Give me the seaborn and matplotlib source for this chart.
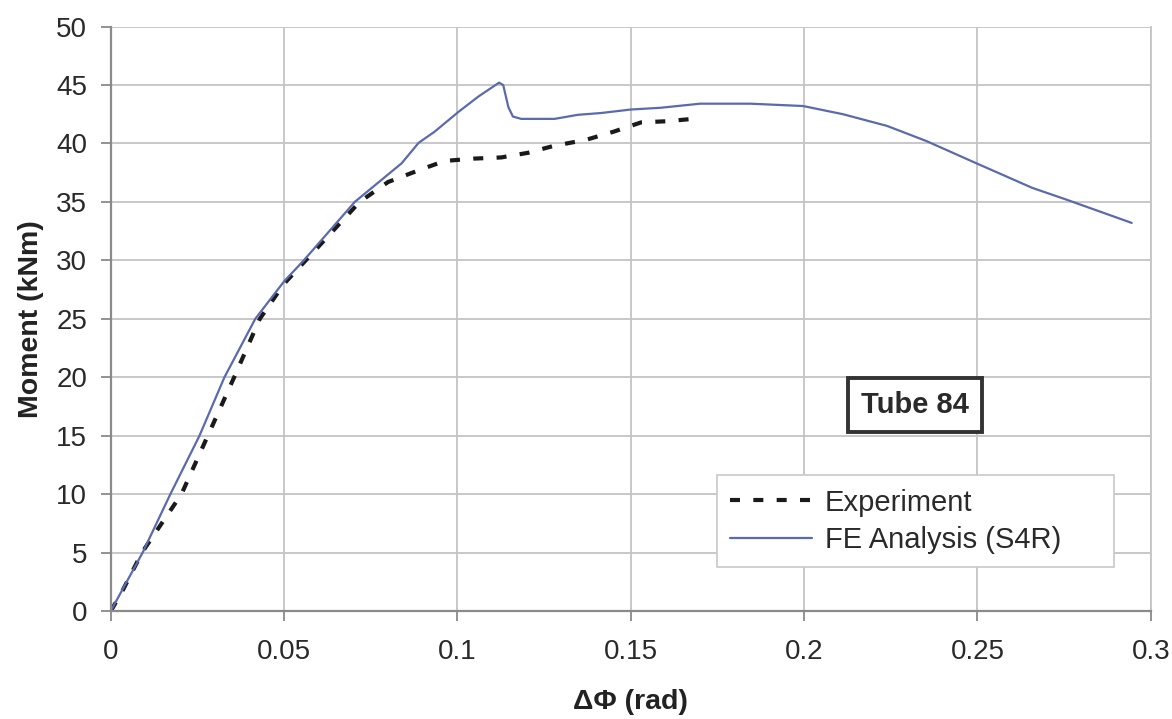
import matplotlib
matplotlib.use("Agg")
import matplotlib.pyplot as plt
import seaborn as sns
import pandas as pd

# Experiment data
exp_x = [0.0, 0.003, 0.009, 0.0204, 0.028, 0.0356, 0.043, 0.05, 0.06, 0.0718, 0.08, 0.0888,
         0.0963, 0.1046, 0.1126, 0.1204, 0.1279, 0.137, 0.145, 0.153, 0.1606, 0.1678]
exp_y = [0.0, 1.5, 5.0, 10.0, 15.0, 20.0, 25.0, 28.0, 31.2, 35.0, 36.7, 37.7,
         38.5, 38.7, 38.8, 39.2, 39.8, 40.3, 41.0, 41.8, 41.9, 42.1]

# FE Analysis (S4R) data
fe_x = [0.0, 0.0092, 0.0172, 0.0256, 0.0328, 0.0417, 0.05, 0.0557, 0.0704, 0.0839, 0.0888,
        0.0934, 0.1003, 0.106, 0.112, 0.1132, 0.1147, 0.116, 0.1184, 0.128, 0.1348, 0.1414,
        0.15, 0.1586, 0.170, 0.1845, 0.1997, 0.2112, 0.2239, 0.2353, 0.2497, 0.2658, 0.2756, 0.2945]
fe_y = [0.0, 5.0, 10.0, 15.0, 20.0, 25.0, 28.2, 30.0, 35.0, 38.3, 40.05,
        41.0, 42.7, 44.0, 45.2, 45.0, 43.1, 42.3, 42.1, 42.1, 42.45, 42.6,
        42.9, 43.05, 43.4, 43.4, 43.2, 42.5, 41.5, 40.2, 38.3, 36.2, 35.2, 33.2]

x_ticks = [0, 0.05, 0.1, 0.15, 0.2, 0.25, 0.3]
x_tick_labels = ["0", "0.05", "0.1", "0.15", "0.2", "0.25", "0.3"]
y_ticks = [0, 5, 10, 15, 20, 25, 30, 35, 40, 45, 50]

sns.set_style("whitegrid")
plt.rcParams['font.family'] = ['Liberation Sans', 'DejaVu Sans']

fig = plt.figure(figsize=(11.72, 7.19), dpi=100)
ax = fig.add_axes([0.0945, 0.1502, 0.8874, 0.8129])

df_exp = pd.DataFrame({"x": exp_x, "y": exp_y})
df_fe = pd.DataFrame({"x": fe_x, "y": fe_y})

sns.lineplot(data=df_exp, x="x", y="y", ax=ax, color="#1a1a1a", linewidth=3.0,
             linestyle=(0, (2.4, 3.2)), label="Experiment", sort=False, estimator=None)
sns.lineplot(data=df_fe, x="x", y="y", ax=ax, color="#5b6aae", linewidth=1.6,
             label="FE Analysis (S4R)", sort=False, estimator=None)

ax.set_xlim(0, 0.3)
ax.set_ylim(0, 50)
ax.set_xticks(x_ticks)
ax.set_xticklabels(x_tick_labels)
ax.set_yticks(y_ticks)
ax.grid(True, color="#c4c4c8", linewidth=1.3)
ax.tick_params(axis="both", labelsize=20, colors="#8a8a8a", labelcolor="#2a2a2a",
               length=7, width=1.3, direction="out", left=True, bottom=True)
ax.tick_params(axis="y", pad=10)
ax.tick_params(axis="x", pad=13)
for s in ["left", "bottom"]:
    ax.spines[s].set_color("#8a8a8a")
    ax.spines[s].set_linewidth(1.6)
ax.spines["top"].set_visible(False)
ax.spines["right"].set_color("#c4c4c8")
ax.spines["right"].set_linewidth(1.3)

ax.set_xlabel("ΔΦ (rad)", fontsize=20.5, fontweight="bold", color="#222222")
ax.set_ylabel("Moment (kNm)", fontsize=20.5, fontweight="bold", color="#222222")
ax.xaxis.set_label_coords(0.5, -0.133)
ax.yaxis.set_label_coords(-0.064, 0.5)

ax.text(0.773, 0.352, "Tube 84", transform=ax.transAxes, ha="center", va="center",
        fontsize=21, fontweight="bold", color="#2a2a2a",
        bbox=dict(boxstyle="square,pad=0.45", facecolor="white", edgecolor="#333333", linewidth=2.8))

leg = ax.legend(loc="lower left", bbox_to_anchor=(0.583, 0.0753, 0.382, 0.154), mode="expand",
                fontsize=21, frameon=True, fancybox=False, shadow=False, handlelength=2.8,
                borderpad=0.45, labelspacing=0.32, handletextpad=0.45, borderaxespad=0.0)
leg.get_frame().set_edgecolor("#c8c8c8")
leg.get_frame().set_linewidth(1.2)
leg.get_frame().set_alpha(1.0)
for t in leg.get_texts():
    t.set_color("#2a2a2a")

fig.savefig("out.png", dpi=100)
